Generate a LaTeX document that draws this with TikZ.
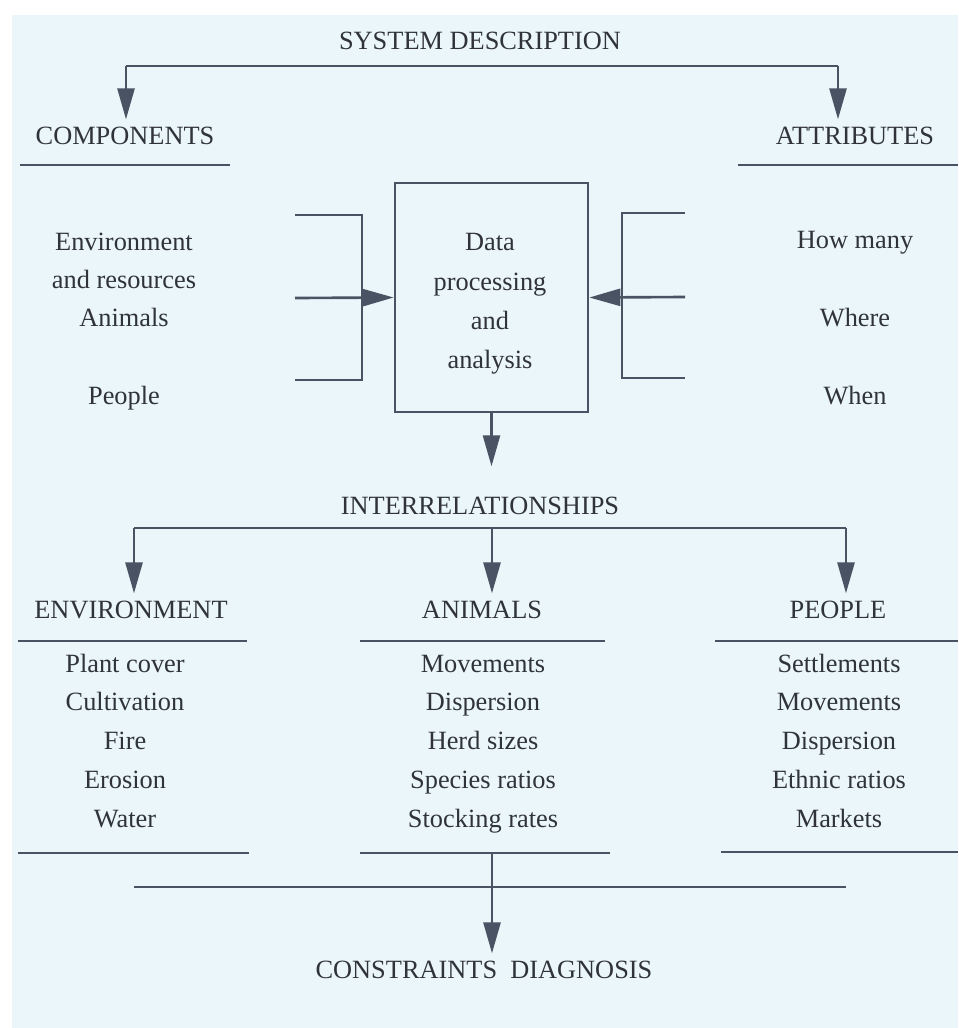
\documentclass[tikz,border=0pt]{standalone}
\usepackage{fontspec}
\setmainfont{Liberation Serif}
\usetikzlibrary{arrows.meta}
\definecolor{ink}{HTML}{303438}
\definecolor{wire}{HTML}{4A5363}
\definecolor{paper}{HTML}{EAF6FA}
\tikzstyle{edge} = [line width=1.5pt, draw=wire]
\tikzstyle{diredge} = [edge, -{Triangle[length=0.62cm,width=0.34cm]}]
\tikzstyle{headarrow} = [diredge, shorten >=0.12cm]
\tikzstyle{lbl} = [text=ink, inner sep=3pt, text height=0.75em, text depth=0.05em]
\tikzstyle{block} = [text=ink, inner sep=0pt, align=center]

\begin{document}
\begin{tikzpicture}[x=0.02cm,y=-0.02cm,every node/.style={font=\fontsize{15}{22.4}\selectfont}]
    \useasboundingbox (0,0) rectangle (958,1028);
    \fill[white] (0,0) rectangle (958,1028);
    \fill[paper] (12,15) rectangle (958,1028);
    % system description
    \node[lbl] (sysdesc) at (480,43) {SYSTEM DESCRIPTION};
    \node[lbl] (comp) at (125,138) {COMPONENTS};
    \node[lbl] (attr) at (855,138) {ATTRIBUTES};
    \coordinate (sysL) at (126,66);
    \coordinate (sysR) at (838,66);
    \draw[edge] (sysL) -- (sysR);
    \draw[headarrow] (sysL) -- (sysL |- comp.north);
    \draw[headarrow] (sysR) -- (sysR |- attr.north);
    % data processing box
    \node[draw=wire, line width=1.5pt, minimum width=3.86cm, minimum height=4.58cm] (proc) at (491.5,297.5) {};
    \node[block] (proctxt) at (490,304) {Data\\processing\\and\\analysis};
    \node[block, font=\fontsize{15}{21.6}\selectfont] (envres) at (124,261) {Environment\\and resources};
    \node[lbl] (anim) at (124,320) {Animals};
    \node[lbl] (peop) at (124,398) {People};
    \node[lbl] (howmany) at (855,242) {How many};
    \node[lbl] (where) at (855,320) {Where};
    \node[lbl] (when) at (855,398) {When};
    % brackets
    \coordinate (inL) at (295,298);
    \coordinate (inR) at (685,297);
    \draw[edge] (295,215) -- (362,215) -- (362,380) -- (295,380);
    \draw[edge] (685,213) -- (622,213) -- (622,378) -- (685,378);
    \draw[diredge] (inL) -- (proc.west);
    \draw[diredge] (inR) -- (proc.east);
    \draw[diredge] (proc.south) -- ++(0,53);
    % interrelationships
    \node[lbl] (inter) at (480,508) {INTERRELATIONSHIPS};
    \node[lbl] (envhd) at (131,612) {ENVIRONMENT};
    \node[lbl] (animhd) at (482,612) {ANIMALS};
    \node[lbl] (peophd) at (838,612) {PEOPLE};
    \coordinate (intL) at (134,528);
    \coordinate (intM) at (492,528);
    \coordinate (intR) at (846,528);
    \draw[edge] (intL) -- (intR);
    \draw[headarrow] (intL) -- (intL |- envhd.north);
    \draw[headarrow] (intM) -- (intM |- animhd.north);
    \draw[headarrow] (intR) -- (intR |- peophd.north);
    \foreach \i/\txt in {0/Plant cover,1/Cultivation,2/Fire,3/Erosion,4/Water}
        \node[lbl] (envit\i) at (125,666+38.8*\i) {\txt};
    \foreach \i/\txt in {0/Movements,1/Dispersion,2/Herd sizes,3/Species ratios,4/Stocking rates}
        \node[lbl] (animit\i) at (483,666+38.8*\i) {\txt};
    \foreach \i/\txt in {0/Settlements,1/Movements,2/Dispersion,3/Ethnic ratios,4/Markets}
        \node[lbl] (peopit\i) at (839,666+38.8*\i) {\txt};
    % underlines
    \foreach \xa/\xb/\y in {20/230/165,738/958/165,18/247/641,360/605/641,715/958/641,18/249/853,360/610/853,721/958/852}
        \draw[edge] (\xa,\y) -- (\xb,\y);
    % constraints
    \node[lbl] (diag) at (484,972) {CONSTRAINTS\ \ DIAGNOSIS};
    \coordinate (diagTop) at (492,853);
    \draw[edge] (134,887) -- (846,887);
    \draw[headarrow] (diagTop) -- (diagTop |- diag.north);
\end{tikzpicture}
\end{document}
